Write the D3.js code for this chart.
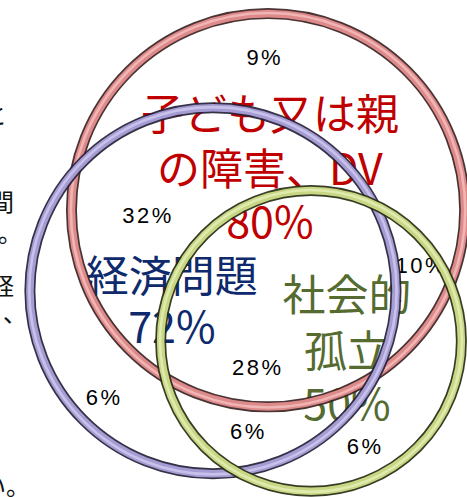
<!DOCTYPE html>
<html>
<head>
<meta charset="utf-8">
<script src="https://cdn.jsdelivr.net/npm/d3@7/dist/d3.min.js"></script>
<style>
  html, body { margin: 0; padding: 0; background: #fff; }
  svg { display: block; }
</style>
</head>
<body>
<svg id="venn" width="467" height="497"></svg>
<script>
// Three overlapping groups and the share of cases in each group
const setNames = ["子ども又は親の障害、DV", "経済問題", "社会的孤立"];
const setTitleLines = [["子ども又は親", "の障害、DV"], ["経済問題"], ["社会的", "孤立"]];
const setShares = [80, 72, 50];

// Share of cases in each region of the diagram (membership flags: [red, blue, green])
const regionKeys = ["A", "AB", "AC", "ABC", "B", "BC", "C"];
const regionMembers = [[1,0,0], [1,1,0], [1,0,1], [1,1,1], [0,1,0], [0,1,1], [0,0,1]];
const regionShares = [9, 32, 10, 28, 6, 6, 6];

// Paragraph fragments that run in from the left margin
const marginFragments = ["と", "間", "。", "経", "、", "い。"];

const svg = d3.select("#venn");
const W = 467, H = 497;

// Layout space: a unit grid mapped to the page
const x = d3.scaleLinear().domain([0, 100]).range([0, W]);
const y = d3.scaleLinear().domain([0, 100]).range([0, H]);
const rScale = d3.scaleLinear().domain([0, 100]).range([0, W]);

const setStyle = [
  { cx: 57.4, cy: 42.3, r: 42.1, band: "#de8a8a", light: "#f3bcbc", edge: "#3a2222", text: "#c00000" },
  { cx: 45.6, cy: 58.5, r: 39.2, band: "#a49cd3", light: "#cfc9ee", edge: "#262038", text: "#0e2a6c" },
  { cx: 66.6, cy: 68.6, r: 32.2, band: "#c7d784", light: "#e4edb6", edge: "#262b12", text: "#556b2f" }
];
// Baselines of the title lines, in layout units
const titlePos = [
  { x: 57.8, y: 26.2, lh: 11.1 },
  { x: 36.8, y: 58.8, lh: 10.8 },
  { x: 74.3, y: 62.5, lh: 11.3 }
];
const regionPos = {
  A: [56.7, 11.5], AB: [31.7, 43.3], AC: [90.2, 53.5], ABC: [55.2, 74.0],
  B: [22.3, 79.9], BC: [53.2, 86.9], C: [78.2, 89.9]
};
const fragPos = [[-17, 124], [-10, 211], [-2, 242], [-10, 295], [3, 322], [-18, 495]];

// Left-margin text
svg.append("g").selectAll("text").data(marginFragments).join("text")
  .attr("x", (d, i) => fragPos[i][0])
  .attr("y", (d, i) => fragPos[i][1])
  .attr("font-family", "Noto Sans CJK JP")
  .attr("font-size", 24)
  .attr("fill", "#111")
  .text(d => d);

// Group titles with their shares (drawn beneath the rings)
const titles = svg.append("g");
setTitleLines.forEach((lines, i) => {
  const p = titlePos[i];
  const all = lines.concat([setShares[i] + "%"]);
  titles.append("g").selectAll("text").data(all).join("text")
    .attr("x", x(p.x))
    .attr("y", (d, j) => y(p.y) + j * y(p.lh) - (j === all.length - 1 ? 3 : 0))
    .attr("text-anchor", "middle")
    .attr("font-family", "Noto Sans CJK JP")
    .attr("font-size", 43)
    .attr("fill", setStyle[i].text)
    .text(d => d);
});

// Region shares
svg.append("g").selectAll("text").data(regionKeys).join("text")
  .attr("x", k => x(regionPos[k][0]))
  .attr("y", k => y(regionPos[k][1]))
  .attr("text-anchor", "middle")
  .attr("dominant-baseline", "central")
  .attr("font-family", "Liberation Sans, Arial, sans-serif")
  .attr("font-size", 22)
  .attr("letter-spacing", 2.5)
  .attr("fill", "#000")
  .text((k, i) => regionShares[i] + "%");

// Tube-like rings
const rings = svg.append("g").attr("fill", "none");
setStyle.forEach((s, i) => {
  const g = rings.append("g").attr("class", "ring-" + i);
  const cx = x(s.cx), cy = y(s.cy), r = rScale(s.r);
  g.append("circle").attr("cx", cx).attr("cy", cy).attr("r", r)
    .attr("stroke", s.edge).attr("stroke-width", 11).attr("stroke-opacity", 0.92);
  g.append("circle").attr("cx", cx).attr("cy", cy).attr("r", r)
    .attr("stroke", s.band).attr("stroke-width", 7.6);
  g.append("circle").attr("cx", cx).attr("cy", cy).attr("r", r + 0.6)
    .attr("stroke", s.light).attr("stroke-width", 2.6).attr("stroke-opacity", 0.85);
});
</script>
</body>
</html>
